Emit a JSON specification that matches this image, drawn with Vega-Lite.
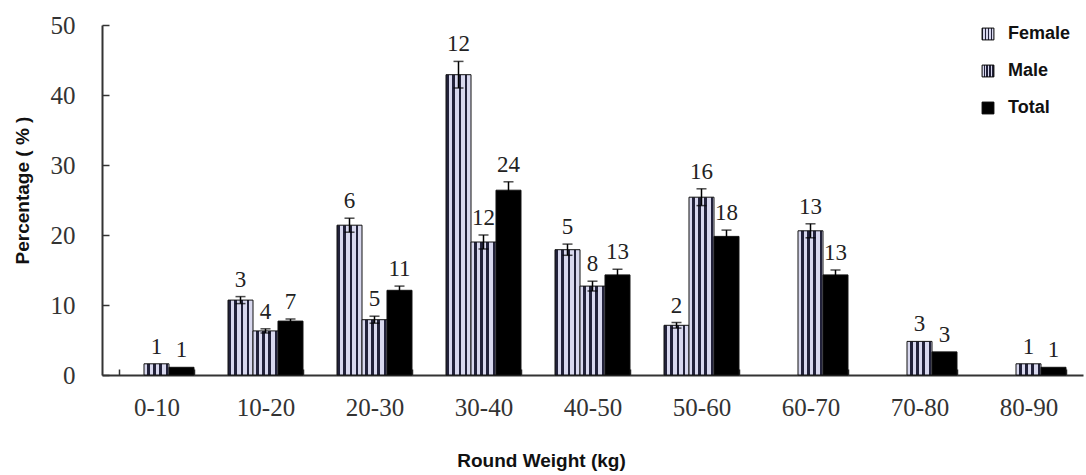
{
  "$schema": "https://vega.github.io/schema/vega-lite/v6.json",
  "width": 981,
  "height": 350,
  "autosize": {"type": "none"},
  "padding": {"left": 102, "top": 25, "right": 3, "bottom": 100},
  "background": "white",
  "config": {"view": {"stroke": null}, "axis": {"grid": false}},
  "data": {
    "values": [
      {"range": "0-10", "sex": "Male", "pct": 1.6, "lo": 1.6, "hi": 1.6, "n": 1},
      {"range": "0-10", "sex": "Total", "pct": 1.1, "lo": 1.1, "hi": 1.1, "n": 1},
      {"range": "10-20", "sex": "Female", "pct": 10.7, "lo": 10.2, "hi": 11.2, "n": 3},
      {"range": "10-20", "sex": "Male", "pct": 6.3, "lo": 6.0, "hi": 6.6, "n": 4},
      {"range": "10-20", "sex": "Total", "pct": 7.7, "lo": 7.4, "hi": 8.0, "n": 7},
      {"range": "20-30", "sex": "Female", "pct": 21.4, "lo": 20.4, "hi": 22.4, "n": 6},
      {"range": "20-30", "sex": "Male", "pct": 7.9, "lo": 7.4, "hi": 8.4, "n": 5},
      {"range": "20-30", "sex": "Total", "pct": 12.1, "lo": 11.5, "hi": 12.7, "n": 11},
      {"range": "30-40", "sex": "Female", "pct": 42.9, "lo": 41.0, "hi": 44.8, "n": 12},
      {"range": "30-40", "sex": "Male", "pct": 19.0, "lo": 18.0, "hi": 20.0, "n": 12},
      {"range": "30-40", "sex": "Total", "pct": 26.4, "lo": 25.2, "hi": 27.6, "n": 24},
      {"range": "40-50", "sex": "Female", "pct": 17.9, "lo": 17.1, "hi": 18.7, "n": 5},
      {"range": "40-50", "sex": "Male", "pct": 12.7, "lo": 12.0, "hi": 13.4, "n": 8},
      {"range": "40-50", "sex": "Total", "pct": 14.3, "lo": 13.5, "hi": 15.1, "n": 13},
      {"range": "50-60", "sex": "Female", "pct": 7.1, "lo": 6.7, "hi": 7.5, "n": 2},
      {"range": "50-60", "sex": "Male", "pct": 25.4, "lo": 24.2, "hi": 26.6, "n": 16},
      {"range": "50-60", "sex": "Total", "pct": 19.8, "lo": 18.9, "hi": 20.7, "n": 18},
      {"range": "60-70", "sex": "Male", "pct": 20.6, "lo": 19.6, "hi": 21.6, "n": 13},
      {"range": "60-70", "sex": "Total", "pct": 14.3, "lo": 13.6, "hi": 15.0, "n": 13},
      {"range": "70-80", "sex": "Male", "pct": 4.8, "lo": 4.8, "hi": 4.8, "n": 3},
      {"range": "70-80", "sex": "Total", "pct": 3.3, "lo": 3.3, "hi": 3.3, "n": 3},
      {"range": "80-90", "sex": "Male", "pct": 1.6, "lo": 1.6, "hi": 1.6, "n": 1},
      {"range": "80-90", "sex": "Total", "pct": 1.1, "lo": 1.1, "hi": 1.1, "n": 1}
    ]
  },
  "encoding": {
    "x": {
      "field": "range",
      "type": "nominal",
      "sort": null,
      "scale": {
        "domain": ["0-10", "10-20", "20-30", "30-40", "40-50", "50-60", "60-70", "70-80", "80-90"],
        "paddingInner": 0.312,
        "paddingOuter": 0.156
      },
      "axis": {
        "title": "Round Weight (kg)",
        "labelAngle": 0,
        "labelFont": "Liberation Serif",
        "labelFontSize": 25,
        "labelColor": "#333333",
        "labelBaseline": "middle",
        "labelPadding": 38,
        "tickBand": "extent",
        "tickSize": -6,
        "tickColor": "#333333",
        "tickWidth": 1.5,
        "domainColor": "#333333",
        "domainWidth": 2,
        "titleFont": "Liberation Sans",
        "titleFontWeight": "bold",
        "titleFontSize": 19,
        "titleColor": "#111111",
        "titleX": 439,
        "titleY": 85,
        "titleBaseline": "middle"
      }
    },
    "xOffset": {
      "field": "sex",
      "type": "nominal",
      "scale": {"domain": ["Female", "Male", "Total"], "paddingInner": 0, "paddingOuter": 0}
    }
  },
  "layer": [
    {
      "mark": {"type": "bar", "stroke": "#111111", "strokeWidth": 1},
      "encoding": {
        "y": {
          "field": "pct",
          "type": "quantitative",
          "title": "Percentage ( % )",
          "scale": {"domain": [0, 50], "nice": false},
          "axis": {
            "values": [0, 5, 10, 15, 20, 25, 30, 35, 40, 45, 50],
            "labelExpr": "datum.value % 10 === 0 ? datum.label : ''",
            "labelFont": "Liberation Serif",
            "labelFontSize": 25,
            "labelColor": "#333333",
            "labelPadding": 34,
            "tickSize": -7,
            "tickWidth": 1.5,
            "tickColor": "#333333",
            "domainColor": "#333333",
            "domainWidth": 2,
            "titleFont": "Liberation Sans",
            "titleFontWeight": "bold",
            "titleFontSize": 19,
            "titleColor": "#111111",
            "titleX": -80,
            "titleY": 165,
            "titleBaseline": "middle"
          }
        },
        "fill": {
          "field": "sex",
          "type": "nominal",
          "scale": {
            "domain": ["Female", "Male", "Total"],
            "range": [
              {"expr": "{gradient:'linear',x1:0,y1:0,x2:1,y2:0,stops:[{offset:0,color:'#22223a'},{offset:0.1,color:'#22223a'},{offset:0.1,color:'#d8d8ee'},{offset:0.25,color:'#d8d8ee'},{offset:0.25,color:'#22223a'},{offset:0.35,color:'#22223a'},{offset:0.35,color:'#d8d8ee'},{offset:0.5,color:'#d8d8ee'},{offset:0.5,color:'#22223a'},{offset:0.6,color:'#22223a'},{offset:0.6,color:'#d8d8ee'},{offset:0.75,color:'#d8d8ee'},{offset:0.75,color:'#22223a'},{offset:0.85,color:'#22223a'},{offset:0.85,color:'#d8d8ee'},{offset:1,color:'#d8d8ee'}]}"},
              {"expr": "{gradient:'linear',x1:0,y1:0,x2:1,y2:0,stops:[{offset:0,color:'#d8d8ee'},{offset:0.12,color:'#d8d8ee'},{offset:0.12,color:'#22223a'},{offset:0.22,color:'#22223a'},{offset:0.22,color:'#d8d8ee'},{offset:0.37,color:'#d8d8ee'},{offset:0.37,color:'#22223a'},{offset:0.47,color:'#22223a'},{offset:0.47,color:'#d8d8ee'},{offset:0.62,color:'#d8d8ee'},{offset:0.62,color:'#22223a'},{offset:0.72,color:'#22223a'},{offset:0.72,color:'#d8d8ee'},{offset:0.87,color:'#d8d8ee'},{offset:0.87,color:'#22223a'},{offset:0.97,color:'#22223a'},{offset:0.97,color:'#d8d8ee'},{offset:1,color:'#d8d8ee'}]}"},
              "#000000"
            ]
          },
          "legend": {
            "orient": "none",
            "legendX": 877,
            "legendY": 0,
            "title": null,
            "symbolType": "square",
            "symbolSize": 140,
            "symbolStrokeColor": "#000000",
            "symbolStrokeWidth": 1,
            "labelFont": "Liberation Sans",
            "labelFontWeight": "bold",
            "labelFontSize": 18,
            "labelColor": "#111111",
            "labelOffset": 11,
            "rowPadding": 19
          }
        }
      }
    },
    {
      "transform": [{"filter": "datum.hi > datum.pct"}],
      "mark": {"type": "rule", "color": "#000000", "strokeWidth": 1.5},
      "encoding": {
        "y": {"field": "lo", "type": "quantitative", "title": "Percentage ( % )"},
        "y2": {"field": "hi"}
      }
    },
    {
      "transform": [{"filter": "datum.hi > datum.pct"}],
      "mark": {"type": "tick", "color": "#000000", "thickness": 1.5, "size": 10},
      "encoding": {
        "y": {"field": "hi", "type": "quantitative", "title": "Percentage ( % )"}
      }
    },
    {
      "transform": [{"filter": "datum.hi > datum.pct"}],
      "mark": {"type": "tick", "color": "#000000", "thickness": 1.5, "size": 10},
      "encoding": {
        "y": {"field": "lo", "type": "quantitative", "title": "Percentage ( % )"}
      }
    },
    {
      "mark": {"type": "text", "font": "Liberation Serif", "fontSize": 23, "baseline": "alphabetic", "dy": -10, "color": "#222222"},
      "encoding": {
        "y": {"field": "hi", "type": "quantitative", "title": "Percentage ( % )"},
        "text": {"field": "n", "type": "quantitative"}
      }
    }
  ]
}
